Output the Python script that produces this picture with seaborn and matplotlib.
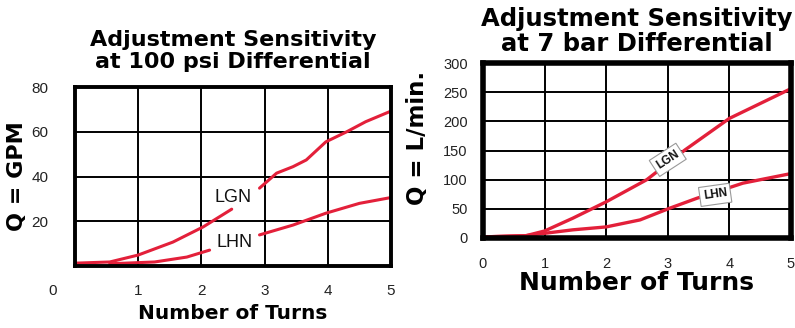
import numpy as np
import pandas as pd
import matplotlib
matplotlib.use("Agg")
import matplotlib.pyplot as plt
import matplotlib.transforms as mtransforms
import seaborn as sns

sns.set_theme(style="white")
plt.rcParams["font.family"] = ["Liberation Sans", "DejaVu Sans"]
plt.rcParams["text.color"] = "black"
plt.rcParams["axes.labelcolor"] = "black"

# Flow vs. adjustment turns; None marks a break in the curve where the label sits
turns_gpm_lgn = [0.03, 0.55, 1.0, 1.55, 2.03, 2.48, None, 2.92, 3.19, 3.45, 3.66, 3.97, 4.3, 4.6, 4.98]
flow_gpm_lgn = [1.3, 1.8, 4.9, 10.7, 17.5, 25.4, None, 34.8, 41.5, 44.4, 47.4, 55.5, 60.0, 64.5, 69.0]
turns_gpm_lhn = [0.55, 1.26, 1.77, 2.13, None, 2.92, 3.45, 3.97, 4.5, 4.98]
flow_gpm_lhn = [1.0, 1.8, 4.0, 7.1, None, 13.9, 18.3, 23.6, 28.0, 30.5]

turns_lpm_lgn = [0.05, 0.7, 1.0, 1.46, 2.0, 2.66, 3.28, 4.0, 4.98]
flow_lpm_lgn = [2, 4, 12, 34, 62, 100, 151, 205, 255]
turns_lpm_lhn = [0.05, 0.7, 1.0, 1.46, 2.0, 2.55, 3.03, 3.47, 4.22, 4.98]
flow_lpm_lhn = [2, 4, 8, 14, 19, 31, 51, 68, 94, 110]

x_ticks = [1, 2, 3, 4, 5]
gpm_ticks = [20, 40, 60, 80]
lpm_ticks = [0, 50, 100, 150, 200, 250, 300]

RED = "#e3203a"
HEAD = ["DejaVu Sans"]


def segments(xs, ys):
    """Split a series at None entries into separate runs."""
    runs, cx, cy = [], [], []
    for x, y in zip(xs, ys):
        if x is None:
            if cx:
                runs.append((cx, cy))
            cx, cy = [], []
        else:
            cx.append(x)
            cy.append(y)
    if cx:
        runs.append((cx, cy))
    return runs


def draw_curve(ax, xs, ys, lw):
    for sx, sy in segments(xs, ys):
        df = pd.DataFrame({"turns": sx, "flow": sy})
        sns.lineplot(data=df, x="turns", y="flow", ax=ax, color=RED,
                     linewidth=lw, estimator=None, sort=False, legend=False)


fig = plt.figure(figsize=(7.95, 3.28), dpi=100)

# ---- US units panel ----
ax1 = fig.add_axes([0.0943, 0.189, 0.3975, 0.5457])
draw_curve(ax1, turns_gpm_lgn, flow_gpm_lgn, 2.2)
draw_curve(ax1, turns_gpm_lhn, flow_gpm_lhn, 2.2)
ax1.set_xlim(0, 5)
ax1.set_ylim(0, 80)
ax1.set_xticks(x_ticks)
ax1.set_xticklabels([str(t) for t in x_ticks])
ax1.set_yticks(gpm_ticks)
ax1.set_yticklabels([str(t) for t in gpm_ticks])
ax1.grid(True, color="black", linewidth=1.4)
ax1.set_axisbelow(True)
for s in ax1.spines.values():
    s.set_color("black")
    s.set_linewidth(2.8)
ax1.tick_params(axis="x", length=0, pad=13, labelsize=11, labelcolor="#222222")
ax1.tick_params(axis="y", length=0, pad=19, labelsize=11, labelcolor="#222222")
# origin label sits at the lower-left corner, left of the frame
trans = mtransforms.blended_transform_factory(ax1.transData, ax1.transAxes)
ax1.annotate("0", xy=(-0.35, 0), xycoords=trans, xytext=(0, -13),
             textcoords="offset points", ha="center", va="top",
             fontsize=11, color="#222222", annotation_clip=False)
ax1.text(2.5, 30.4, "LGN", ha="center", va="center", fontsize=13, color="#111111")
ax1.text(2.53, 10.3, "LHN", ha="center", va="center", fontsize=13, color="#111111")
ax1.set_xlabel("Number of Turns", fontsize=14.5, fontweight="bold", labelpad=4, family=HEAD)
ax1.set_ylabel("Q = GPM", fontsize=16, fontweight="bold", labelpad=3, family=HEAD)
ax1.set_title("Adjustment Sensitivity\nat 100 psi Differential",
              fontsize=16, fontweight="bold", pad=14, linespacing=1.12, family=HEAD)

# ---- metric panel ----
ax2 = fig.add_axes([0.6075, 0.2744, 0.3874, 0.5335])
draw_curve(ax2, turns_lpm_lgn, flow_lpm_lgn, 2.4)
draw_curve(ax2, turns_lpm_lhn, flow_lpm_lhn, 2.4)
ax2.set_xlim(0, 5)
ax2.set_ylim(0, 300)
ax2.set_xticks([0] + x_ticks)
ax2.set_xticklabels([str(t) for t in [0] + x_ticks])
ax2.set_yticks(lpm_ticks)
ax2.set_yticklabels([str(t) for t in lpm_ticks])
ax2.grid(True, color="black", linewidth=1.4)
ax2.set_axisbelow(True)
for s in ax2.spines.values():
    s.set_color("black")
    s.set_linewidth(4)
ax2.tick_params(axis="x", length=0, pad=14, labelsize=10.5, labelcolor="#222222")
ax2.tick_params(axis="y", length=0, pad=11, labelsize=10.5, labelcolor="#222222")
box = dict(boxstyle="square,pad=0.3", facecolor="white", edgecolor="#999999", linewidth=0.8)
ax2.text(3.0, 134, "LGN", ha="center", va="center", fontsize=8.5, rotation=33,
         color="#111111", fontweight="bold", bbox=box)
ax2.text(3.77, 74, "LHN", ha="center", va="center", fontsize=8.5, rotation=8,
         color="#111111", fontweight="bold", bbox=box)
ax2.set_xlabel("Number of Turns", fontsize=18, fontweight="bold", labelpad=0, family=HEAD)
ax2.set_ylabel("Q = L/min.", fontsize=16.5, fontweight="bold", labelpad=6, family=HEAD)
ax2.yaxis.set_label_coords(-0.175, 0.57)
ax2.set_title("Adjustment Sensitivity\nat 7 bar Differential",
              fontsize=17.5, fontweight="bold", pad=9, linespacing=1.05, family=HEAD)

fig.savefig("out.png", dpi=100, facecolor="white")
